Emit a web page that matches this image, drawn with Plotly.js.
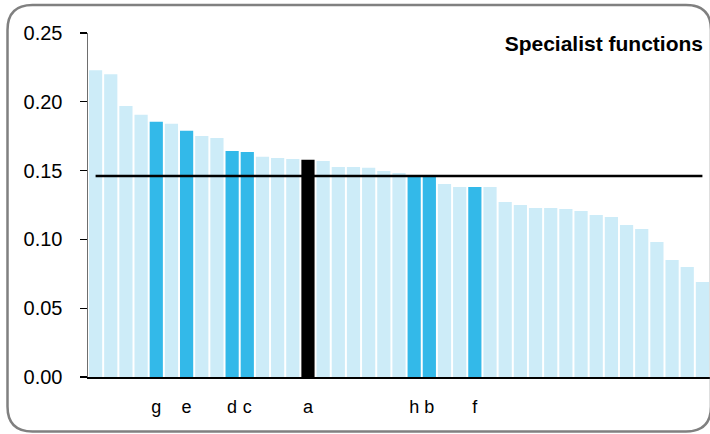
<!DOCTYPE html>
<html>
<head>
<meta charset="utf-8">
<script src="https://cdn.plot.ly/plotly-3.0.1.min.js"></script>
<style>html,body{margin:0;padding:0;background:#fff;}#chart{width:710px;height:434px;}</style>
</head>
<body>
<div id="chart"></div>
<script>
// ---- data ----
const values = [0.223, 0.220, 0.197, 0.1905, 0.1855, 0.184, 0.179, 0.1752, 0.1737, 0.1643,
                0.1636, 0.160, 0.1592, 0.1585, 0.1578, 0.157, 0.1527, 0.1527, 0.152, 0.1498,
                0.1483, 0.1468, 0.1468, 0.1403, 0.1381, 0.1381, 0.1381, 0.1272, 0.125, 0.1228,
                0.1228, 0.1221, 0.1207, 0.1178, 0.1163, 0.1105, 0.1076, 0.0981, 0.0851, 0.080,
                0.069];
const tickLabels = ["", "", "", "", "g", "", "e", "", "", "d",
                    "c", "", "", "", "a", "", "", "", "", "",
                    "", "h", "b", "", "", "f", "", "", "", "",
                    "", "", "", "", "", "", "", "", "", "",
                    ""];
const barGroup = ["other","other","other","other","peer","other","peer","other","other","peer",
                  "peer","other","other","other","self","other","other","other","other","other",
                  "other","peer","peer","other","other","peer","other","other","other","other",
                  "other","other","other","other","other","other","other","other","other","other",
                  "other"];
const averageValue = 0.146;
const yTicks = [0, 0.05, 0.10, 0.15, 0.20, 0.25];
const chartTitle = "Specialist functions";

// ---- styles ----
const groupColor = {other: "#cdecf8", peer: "#33b9e9", self: "#000000"};
const FONT = "Liberation Sans, Arial, sans-serif";

const idx = values.map((_, i) => i);
const tickIdx = idx.filter(i => tickLabels[i] !== "");

const bars = {
  type: "bar",
  x: idx,
  y: values,
  marker: {color: barGroup.map(g => groupColor[g]), line: {width: 0}},
  hoverinfo: "y",
  showlegend: false
};
const avgLine = {
  type: "scatter",
  mode: "lines",
  x: idx,
  y: idx.map(() => averageValue),
  line: {color: "#000000", width: 2.5},
  hoverinfo: "y",
  showlegend: false
};

// frame (rounded rectangle) in paper coords derived from pixel geometry
const L = 88, R = 710, T = 33, B = 377;
const px = v => (v - L) / (R - L);
const py = v => (B - v) / (B - T);
const fl = px(7.5), fr = px(711), ft = py(5), fb = py(431.5);
const rx = 25 / (R - L), ry = 25 / (B - T);
const framePath = `M ${fl+rx},${ft} L ${fr-rx},${ft} Q ${fr},${ft} ${fr},${ft-ry} L ${fr},${fb+ry} Q ${fr},${fb} ${fr-rx},${fb} L ${fl+rx},${fb} Q ${fl},${fb} ${fl},${fb+ry} L ${fl},${ft-ry} Q ${fl},${ft} ${fl+rx},${ft} Z`;

const layout = {
  width: 710,
  height: 434,
  margin: {l: L, r: 710 - R, t: T, b: 434 - B, pad: 0},
  paper_bgcolor: "#ffffff",
  plot_bgcolor: "#ffffff",
  bargap: 0.13,
  font: {family: FONT, color: "#000000"},
  title: {
    text: "<b>" + chartTitle + "</b>",
    font: {family: FONT, size: 21, color: "#000000"},
    x: 703 / 710, xanchor: "right", xref: "container",
    y: 1 - 44 / 434, yanchor: "middle", yref: "container"
  },
  xaxis: {
    range: [-0.5, values.length - 0.5],
    tickmode: "array",
    tickvals: tickIdx,
    ticktext: tickIdx.map(i => tickLabels[i]),
    ticks: "",
    showgrid: false,
    zeroline: false,
    showline: true,
    linecolor: "#000000",
    linewidth: 1.5,
    tickfont: {family: FONT, size: 18, color: "#000000"},
    ticklabelstandoff: 13,
    fixedrange: true
  },
  yaxis: {
    range: [0, 0.25],
    tickmode: "array",
    tickvals: yTicks,
    ticktext: yTicks.map(v => v.toFixed(2)),
    ticks: "outside",
    ticklen: 7,
    tickwidth: 1.2,
    tickcolor: "#000000",
    showgrid: false,
    zeroline: false,
    showline: true,
    linecolor: "#6e6e6e",
    linewidth: 1.5,
    tickfont: {family: FONT, size: 20, color: "#000000"},
    ticklabelstandoff: 13,
    fixedrange: true
  },
  shapes: [{
    type: "path",
    xref: "paper", yref: "paper",
    path: framePath,
    line: {color: "#808080", width: 2.5},
    fillcolor: "rgba(0,0,0,0)",
    layer: "above"
  }]
};

Plotly.newPlot("chart", [bars, avgLine], layout, {displayModeBar: false, staticPlot: true});
</script>
</body>
</html>
